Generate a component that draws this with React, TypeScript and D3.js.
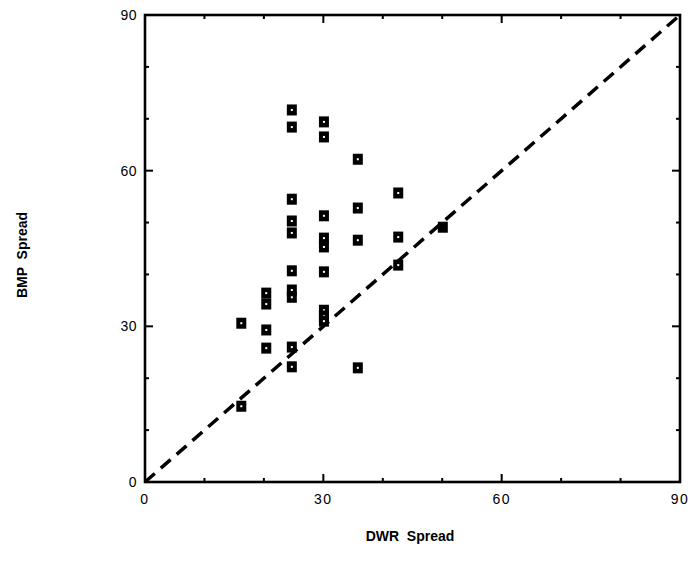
import React from "react";
import * as d3 from "d3";

const dwr: number[] = [
  16.2, 16.2,
  20.4, 20.4, 20.4, 20.4,
  24.7, 24.7, 24.7, 24.7, 24.7, 24.7, 24.7, 24.7, 24.7, 24.7,
  30.1, 30.1, 30.1, 30.1, 30.1, 30.1, 30.1, 30.1, 30.1,
  35.8, 35.8, 35.8, 35.8,
  42.6, 42.6, 42.6,
];
const bmp: number[] = [
  14.6, 30.6,
  36.4, 34.3, 29.3, 25.8,
  71.7, 68.4, 54.5, 50.3, 48.0, 40.7, 37.0, 35.6, 26.0, 22.2,
  69.4, 66.5, 51.3, 47.0, 45.3, 40.5, 33.1, 32.0, 31.0,
  62.2, 52.8, 46.6, 22.0,
  55.7, 47.2, 41.8,
];
const solidDwr: number[] = [50.1];
const solidBmp: number[] = [49.1];

const majorTicks: number[] = [0, 30, 60, 90];
const minorTicks: number[] = [10, 20, 40, 50, 70, 80];
const xTitle = "DWR  Spread";
const yTitle = "BMP  Spread";

export default function App() {
  const W = 689, H = 574;
  const x = d3.scaleLinear().domain([0, 90]).range([145, 680]);
  const y = d3.scaleLinear().domain([0, 90]).range([482, 15]);
  const x0 = x(0), x1 = x(90), y0 = y(0), y1 = y(90);
  const font = "'Liberation Sans', Arial, Helvetica, sans-serif";
  const mw = 10, mh = 11;

  const tickLen = (v: number) => (v === 30 || v === 60 ? 8 : 4);
  const inner = [...minorTicks, 30, 60];

  return (
    <svg width={W} height={H} style={{ position: "absolute", left: 0, top: 0, background: "#fff" }}>
      <rect x={0} y={0} width={W} height={H} fill="#fff" />
      {/* diagonal */}
      <line
        x1={x(0)} y1={y(0)} x2={x(90)} y2={y(90)}
        stroke="#000" strokeWidth={3.5} strokeDasharray="13 8"
      />
      {/* frame */}
      <rect x={x0} y={y1} width={x1 - x0} height={y0 - y1} fill="none" stroke="#000" strokeWidth={2.6} />
      {/* ticks */}
      {inner.map((v) => (
        <g key={"t" + v}>
          <line x1={x0} x2={x0 + tickLen(v)} y1={y(v)} y2={y(v)} stroke="#000" strokeWidth={2} />
          <line x1={x1} x2={x1 - tickLen(v)} y1={y(v)} y2={y(v)} stroke="#000" strokeWidth={2} />
          <line x1={x(v)} x2={x(v)} y1={y0} y2={y0 - tickLen(v)} stroke="#000" strokeWidth={2} />
          <line x1={x(v)} x2={x(v)} y1={y1} y2={y1 + tickLen(v)} stroke="#000" strokeWidth={2} />
        </g>
      ))}
      {/* tick labels */}
      {majorTicks.map((v) => (
        <text key={"xl" + v} x={x(v)} y={y0 + 22} textAnchor="middle" fontFamily={font} fontSize={14} letterSpacing={1.5} fill="#000">
          {v}
        </text>
      ))}
      {majorTicks.map((v) => (
        <text key={"yl" + v} x={x0 - 8} y={y(v) + 5} textAnchor="end" fontFamily={font} fontSize={14} letterSpacing={0.5} fill="#000">
          {v}
        </text>
      ))}
      {/* points */}
      {dwr.map((d, i) => (
        <g key={"p" + i}>
          <rect x={x(d) - mw / 2} y={y(bmp[i]) - mh / 2} width={mw} height={mh} fill="#000" />
          <rect x={x(d) - 1} y={y(bmp[i]) - 1} width={2} height={2} fill="#fff" />
        </g>
      ))}
      {solidDwr.map((d, i) => (
        <rect key={"s" + i} x={x(d) - mw / 2} y={y(solidBmp[i]) - mh / 2} width={mw} height={mh} fill="#000" />
      ))}
      {/* axis titles */}
      <text x={410} y={541} textAnchor="middle" fontFamily={font} fontSize={14} fontWeight="bold" fill="#000" style={{ whiteSpace: "pre" }}>
        {xTitle}
      </text>
      <text
        transform={`translate(27,255) rotate(-90)`}
        textAnchor="middle" fontFamily={font} fontSize={14} fontWeight="bold" fill="#000" style={{ whiteSpace: "pre" }}
      >
        {yTitle}
      </text>
    </svg>
  );
}
